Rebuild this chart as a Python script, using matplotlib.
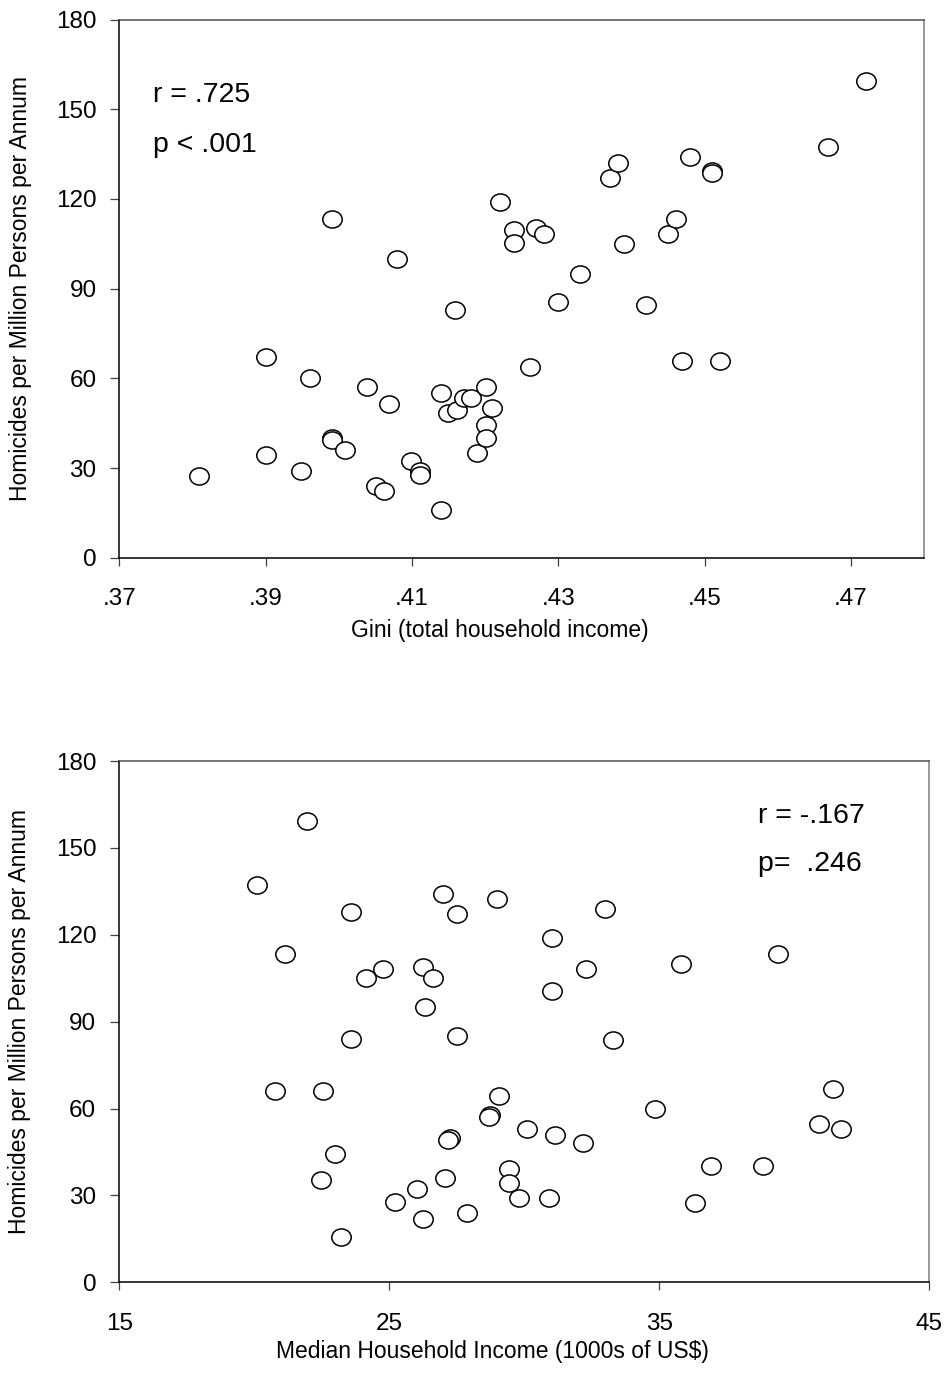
import matplotlib
matplotlib.use('Agg')
import matplotlib.pyplot as plt
import numpy as np
from matplotlib.path import Path
from matplotlib.transforms import Affine2D

plt.rcParams['font.family'] = ['Liberation Sans', 'DejaVu Sans']

# top panel: Gini vs homicide rate
gini = [.3809, .3900, .3900, .3948, .3960, .3990, .3990, .3990, .4009, .4039,
        .4051, .4062, .4069, .4080, .4099, .4111, .4111, .4140, .4140, .4149,
        .4159, .4161, .4171, .4180, .4189, .4201, .4201, .4201, .4209, .4220,
        .4239, .4239, .4261, .4269, .4280, .4299, .4329, .4371, .4382, .4390,
        .4420, .4450, .4461, .4469, .4480, .4510, .4510, .4521, .4669, .4721]
hom_gini = [27.3, 67.0, 34.3, 29.1, 60.1, 113.2, 40.1, 39.4, 36.1, 57.0,
            24.1, 22.2, 51.3, 100.0, 32.3, 29.0, 27.7, 55.2, 16.0, 48.3,
            83.0, 49.4, 53.3, 53.3, 34.9, 57.0, 44.4, 40.1, 50.2, 118.9,
            109.6, 105.1, 63.9, 110.2, 108.3, 85.4, 94.9, 127.1, 132.1, 104.9,
            84.6, 108.2, 113.2, 65.8, 134.1, 129.3, 128.5, 65.8, 137.4, 159.4]

# bottom panel: median household income vs homicide rate
income = [21.96, 20.11, 26.99, 29.00, 23.57, 27.51, 21.13, 24.13, 24.77, 26.26,
          26.63, 26.32, 23.57, 27.51, 33.00, 31.01, 32.28, 35.80, 39.38, 31.01,
          33.30, 20.78, 22.53, 22.99, 22.47, 23.21, 25.21, 26.03, 26.26, 27.06,
          27.25, 27.19, 27.88, 28.73, 28.70, 29.06, 29.43, 29.43, 29.81, 30.09,
          31.14, 32.19, 30.93, 34.84, 36.93, 36.32, 38.84, 41.43, 40.91, 41.73]
hom_inc = [159.3, 137.2, 134.1, 132.4, 127.8, 127.3, 113.5, 105.1, 108.3, 109.0,
           105.1, 95.2, 83.9, 85.2, 128.9, 119.0, 108.3, 109.9, 113.4, 100.5,
           83.7, 66.2, 66.2, 44.2, 35.3, 15.7, 27.7, 32.2, 22.0, 36.0,
           49.9, 49.1, 24.0, 57.7, 57.1, 64.3, 39.1, 34.2, 29.1, 52.8,
           51.0, 48.0, 29.1, 59.8, 40.3, 27.3, 40.3, 66.9, 54.8, 52.8]

gini_ticks = [.37, .39, .41, .43, .45, .47]
gini_labels = ['.37', '.39', '.41', '.43', '.45', '.47']
inc_ticks = [15, 25, 35, 45]
y_ticks = [0, 30, 60, 90, 120, 150, 180]

ylab = 'Homicides per Million Persons per Annum'

# slightly flattened circle marker
ell = Path.unit_circle().transformed(Affine2D().scale(1.0, 0.88))

fig = plt.figure(figsize=(9.49, 13.74), dpi=100)
ax1 = fig.add_axes([0.1259, 0.5941, 0.8478, 0.3917])
ax2 = fig.add_axes([0.1257, 0.0667, 0.8535, 0.3794])


def style(ax):
    ax.spines['left'].set_color('black')
    ax.spines['bottom'].set_color('black')
    ax.spines['top'].set_color('#505050')
    ax.spines['right'].set_color('#808080')
    for s in ax.spines.values():
        s.set_linewidth(1.1)
    ax.set_ylim(0, 180)
    ax.set_yticks(y_ticks)
    ax.tick_params(axis='y', direction='out', length=6.5, width=0.9, pad=10,
                   labelsize=17.5, color='#404040')
    ax.tick_params(axis='x', direction='out', length=6, width=0.9, pad=16,
                   labelsize=17.5, color='#404040')
    ax.set_ylabel(ylab, fontsize=16.5)
    ax.yaxis.set_label_coords(-0.109, 0.5)


ax1.scatter(gini, hom_gini, marker=ell, s=14 ** 2, facecolor='white',
            edgecolor='black', linewidth=1.1, zorder=3)
style(ax1)
ax1.set_xlim(.37, .48)
ax1.set_xticks(gini_ticks)
ax1.set_xticklabels(gini_labels)
ax1.set_xlabel('Gini (total household income)', fontsize=16.5, va='top')
ax1.xaxis.set_label_coords(0.473, -0.114)
ax1.text(0.0416, 0.847, 'r = .725', transform=ax1.transAxes, fontsize=20.5)
ax1.text(0.0416, 0.754, 'p < .001', transform=ax1.transAxes, fontsize=20.5)

ax2.scatter(income, hom_inc, marker=ell, s=14 ** 2, facecolor='white',
            edgecolor='black', linewidth=1.1, zorder=3)
style(ax2)
ax2.set_xlim(15, 45)
ax2.set_xticks(inc_ticks)
ax2.set_xlabel('Median Household Income (1000s of US$)', fontsize=16.5, va='top')
ax2.xaxis.set_label_coords(0.461, -0.111)
ax2.text(0.789, 0.882, 'r = -.167', transform=ax2.transAxes, fontsize=20.5)
ax2.text(0.789, 0.790, 'p=  .246', transform=ax2.transAxes, fontsize=20.5)

fig.savefig('out.png', dpi=100)
